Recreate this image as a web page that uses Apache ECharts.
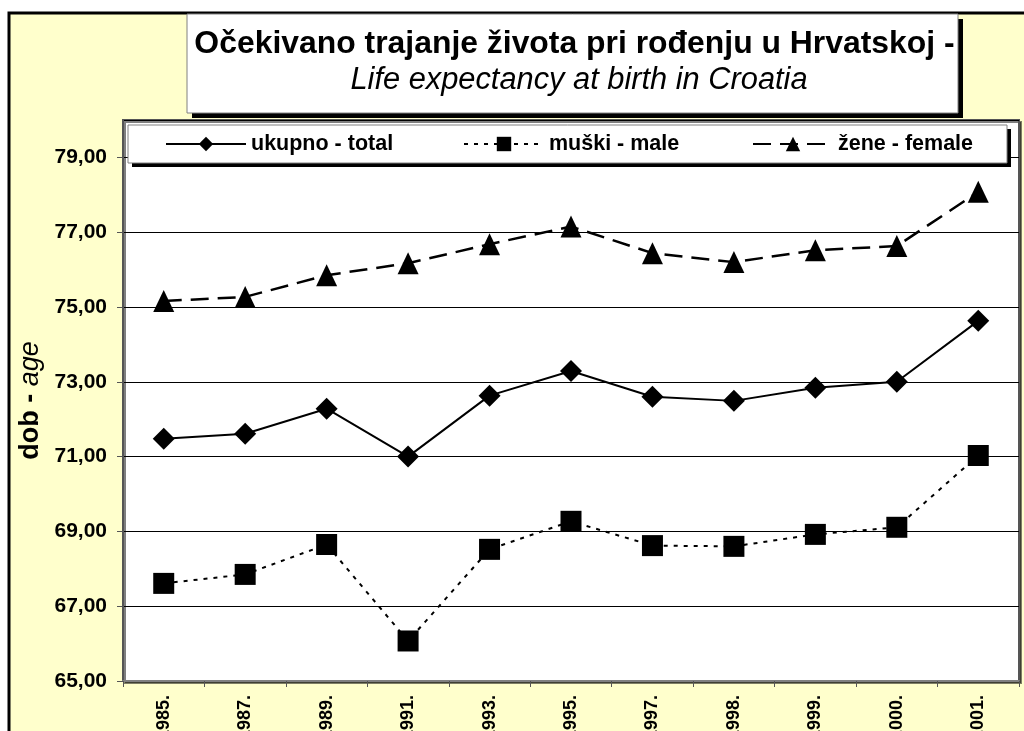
<!DOCTYPE html>
<html><head><meta charset="utf-8">
<script src="https://cdn.jsdelivr.net/npm/echarts@6/dist/echarts.min.js"></script>
<style>html,body{margin:0;padding:0;background:#fff;}#c{width:1024px;height:731px;}</style>
</head><body><div id="c"></div>
<script>
const categories = ['1985.','1987.','1989.','1991.','1993.','1995.','1997.','1998.','1999.','2000.','2001.'];
const totalValues = [71.48, 71.61, 72.28, 71.00, 72.63, 73.29, 72.60, 72.49, 72.84, 73.00, 74.63];
const maleValues = [67.61, 67.85, 68.65, 66.07, 68.52, 69.27, 68.62, 68.60, 68.92, 69.11, 71.03];
const femaleValues = [75.16, 75.27, 75.85, 76.17, 76.68, 77.15, 76.44, 76.20, 76.52, 76.63, 78.08];
const seriesNames = ['ukupno - total', 'muški - male', 'žene - female'];
const titleText = 'Očekivano trajanje života pri rođenju u Hrvatskoj -';
const subtitleText = 'Life expectancy at birth in Croatia';

const FONT = 'Arial, "Liberation Sans", sans-serif';
const chart = echarts.init(document.getElementById('c'));
const legendCommon = {
  top: 133, itemWidth: 80, itemHeight: 18, padding: 0, itemGap: 6,
  textStyle: {fontFamily: FONT, fontWeight: 'bold', fontSize: 21.5, color: '#000'},
  backgroundColor: 'transparent'
};
chart.setOption({
  animation: false,
  backgroundColor: 'transparent',
  graphic: [
    {type: 'rect', z: -10, shape: {x: 9, y: 13, width: 1100, height: 800}, style: {fill: '#FFFFCC', stroke: '#000', lineWidth: 3}},
    {type: 'rect', z: 5, shape: {x: 192, y: 19, width: 771, height: 99}, style: {fill: '#000'}},
    {type: 'rect', z: 6, shape: {x: 187, y: 14, width: 771, height: 99}, style: {fill: '#fff', stroke: '#808080', lineWidth: 1}},
    {type: 'rect', z: 5, shape: {x: 132, y: 129, width: 879, height: 38}, style: {fill: '#000'}},
    {type: 'rect', z: 6, shape: {x: 128, y: 125, width: 879, height: 38}, style: {fill: '#fff', stroke: '#808080', lineWidth: 1}}
  ],
  title: [
    {text: titleText, left: 569.5, textAlign: 'center', top: 23, z: 10,
     textStyle: {fontFamily: FONT, fontWeight: 'bold', fontSize: 31.9, color: '#000'}},
    {text: subtitleText, left: 574, textAlign: 'center', top: 60, z: 10,
     textStyle: {fontFamily: FONT, fontStyle: 'italic', fontWeight: 'normal', fontSize: 30.8, color: '#000'}}
  ],
  legend: [
    Object.assign({}, legendCommon, {left: 165, data: [seriesNames[0]], z: 10}),
    Object.assign({}, legendCommon, {left: 463, data: [seriesNames[1]], z: 10}),
    Object.assign({}, legendCommon, {left: 752, data: [seriesNames[2]], z: 10})
  ],
  grid: {left: 123, right: 5, top: 120, bottom: 50, containLabel: false, outerBoundsMode: 'none',
    show: true, backgroundColor: '#fff', borderColor: '#555', borderWidth: 2, shadowColor: 'rgba(0,0,0,0.5)', shadowOffsetX: 2, shadowOffsetY: 2},
  xAxis: {
    type: 'category', data: categories, boundaryGap: true,
    axisLine: {lineStyle: {color: '#808080', width: 2}},
    axisTick: {show: true, alignWithLabel: false, length: 6, lineStyle: {color: '#555', width: 1}},
    axisLabel: {rotate: 90, interval: 0, margin: 14, fontFamily: FONT, fontWeight: 'bold', fontSize: 18, color: '#000'},
    splitLine: {show: false}
  },
  yAxis: {
    type: 'value', min: 65, max: 80, interval: 2,
    name: '{b|dob - }{i|age}', nameLocation: 'middle', nameRotate: 90, nameGap: 73,
    nameTextStyle: {rich: {b: {fontFamily: FONT, fontWeight: 'bold', fontSize: 27, color: '#000'}, i: {fontFamily: FONT, fontStyle: 'italic', fontSize: 27, color: '#000'}}},
    axisLine: {show: true, lineStyle: {color: '#555', width: 2}},
    axisTick: {show: true, length: 6, lineStyle: {color: '#555'}},
    axisLabel: {showMaxLabel: false, margin: 16, fontFamily: FONT, fontWeight: 'bold', fontSize: 21, color: '#000',
      formatter: v => v.toFixed(2).replace('.', ',')},
    splitLine: {show: true, lineStyle: {color: '#000', width: 1}}
  },
  series: [
    {name: seriesNames[0], type: 'line', data: totalValues, symbol: 'diamond', symbolSize: 22,
     lineStyle: {color: '#000', width: 2, type: 'solid'}, itemStyle: {color: '#000'}},
    {name: seriesNames[1], type: 'line', data: maleValues, symbol: 'rect', symbolSize: 21,
     lineStyle: {color: '#000', width: 2, type: [4, 6]}, itemStyle: {color: '#000'}},
    {name: seriesNames[2], type: 'line', data: femaleValues, symbol: 'triangle', symbolSize: [21, 22],
     lineStyle: {color: '#000', width: 2.5, type: [18, 9]}, itemStyle: {color: '#000'}}
  ]
});
</script></body></html>
